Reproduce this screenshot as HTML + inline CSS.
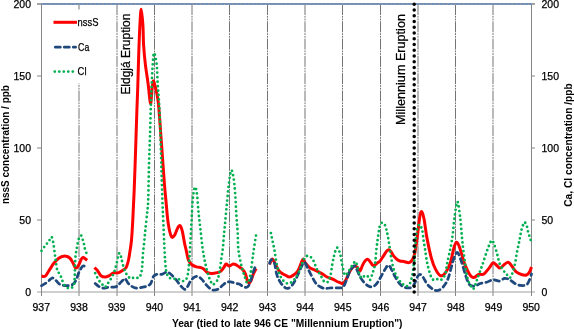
<!DOCTYPE html>
<html><head><meta charset="utf-8"><style>
html,body{margin:0;padding:0;background:#fff;}
body{width:574px;height:329px;overflow:hidden;}
svg{display:block;}
.grid line{stroke:#747474;stroke-width:1;stroke-dasharray:11 0.9 1.8 0.9 1.8 0.9;}
.axis,.axis line{stroke:#868686;stroke-width:1;}
.xaxis{stroke:#a0a0a0;stroke-width:1;}
path{fill:none;}
.ns{stroke:#ff0000;stroke-width:3;fill:none;stroke-linejoin:round;}
.ca{stroke:#1f497d;stroke-width:2.75;fill:none;stroke-dasharray:5 4;stroke-linecap:round;}
.cl{stroke:#00b050;stroke-width:2.8;fill:none;stroke-dasharray:0 4.5;stroke-linecap:round;}
.mill{stroke:#000;stroke-width:3.5;stroke-dasharray:0 5.752;stroke-linecap:round;}
text{font-family:"Liberation Sans",sans-serif;font-size:10.5px;fill:#000;stroke:#000;stroke-width:0.25px;}
.lab .leg{font-size:10.8px;}
.lab .ann{font-size:12.5px;}
.title text{font-weight:bold;font-size:11px;stroke:none;}
</style></head><body>
<svg width="574" height="329" viewBox="0 0 574 329">
<g class="grid"><line x1="79.0" y1="4" x2="79.0" y2="292" /><line x1="117.0" y1="4" x2="117.0" y2="292" /><line x1="154.5" y1="4" x2="154.5" y2="292" /><line x1="192.0" y1="4" x2="192.0" y2="292" /><line x1="229.5" y1="4" x2="229.5" y2="292" /><line x1="267.5" y1="4" x2="267.5" y2="292" /><line x1="305.0" y1="4" x2="305.0" y2="292" /><line x1="342.5" y1="4" x2="342.5" y2="292" /><line x1="380.5" y1="4" x2="380.5" y2="292" /><line x1="418.0" y1="4" x2="418.0" y2="292" /><line x1="455.5" y1="4" x2="455.5" y2="292" /><line x1="493.0" y1="4" x2="493.0" y2="292" /></g>
<line class="xaxis" x1="37" y1="292" x2="535" y2="292"/>
<line class="axis" x1="41.5" y1="3" x2="41.5" y2="296"/>
<line class="axis" x1="531.5" y1="3" x2="531.5" y2="296"/>
<line class="axis" x1="37" y1="4" x2="41" y2="4"/>
<line class="axis" x1="532" y1="4" x2="535" y2="4"/>
<g class="axis"><line x1="37" y1="220.0" x2="41.5" y2="220.0" /><line x1="531" y1="220.0" x2="535" y2="220.0" /><line x1="37" y1="148.0" x2="41.5" y2="148.0" /><line x1="531" y1="148.0" x2="535" y2="148.0" /><line x1="37" y1="76.0" x2="41.5" y2="76.0" /><line x1="531" y1="76.0" x2="535" y2="76.0" /><line x1="37" y1="4.0" x2="41.5" y2="4.0" /><line x1="531" y1="4.0" x2="535" y2="4.0" /><line x1="79.0" y1="292" x2="79.0" y2="296" /><line x1="117.0" y1="292" x2="117.0" y2="296" /><line x1="154.5" y1="292" x2="154.5" y2="296" /><line x1="192.0" y1="292" x2="192.0" y2="296" /><line x1="229.5" y1="292" x2="229.5" y2="296" /><line x1="267.5" y1="292" x2="267.5" y2="296" /><line x1="305.0" y1="292" x2="305.0" y2="296" /><line x1="342.5" y1="292" x2="342.5" y2="296" /><line x1="380.5" y1="292" x2="380.5" y2="296" /><line x1="418.0" y1="292" x2="418.0" y2="296" /><line x1="455.5" y1="292" x2="455.5" y2="296" /><line x1="493.0" y1="292" x2="493.0" y2="296" /></g>
<line x1="41" y1="4" x2="532" y2="4" stroke="#7191bb" stroke-width="2"/>
<line x1="42" y1="4.5" x2="531" y2="4.5" stroke="#d9a066" stroke-width="1" stroke-dasharray="1 3.05" opacity="0.6"/>
<path class="ns" d="M41.50 276.10 C42.13 276.10 43.95 277.17 45.30 276.10 C46.65 275.03 48.18 271.83 49.60 269.70 C51.02 267.57 52.22 265.25 53.80 263.30 C55.38 261.35 57.27 259.22 59.10 258.00 C60.93 256.78 63.02 256.00 64.80 256.00 C66.58 256.00 68.43 256.83 69.80 258.00 C71.17 259.17 72.05 261.37 73.00 263.00 C73.95 264.63 74.75 267.13 75.50 267.80 C76.25 268.47 76.83 267.73 77.50 267.00 C78.17 266.27 78.90 264.65 79.50 263.40 C80.10 262.15 80.50 260.48 81.10 259.50 C81.70 258.52 82.43 257.63 83.10 257.50 C83.77 257.37 84.42 258.23 85.10 258.70 C85.78 259.17 86.85 260.03 87.20 260.30"/>
<path class="ns" d="M94.40 267.60 C94.93 268.12 96.53 269.37 97.60 270.70 C98.67 272.03 99.57 274.53 100.80 275.60 C102.03 276.67 103.58 277.10 105.00 277.10 C106.42 277.10 107.88 276.30 109.30 275.60 C110.72 274.90 112.08 273.35 113.50 272.90 C114.92 272.45 116.38 273.27 117.80 272.90 C119.22 272.53 120.63 271.57 122.00 270.70 C123.37 269.83 124.93 269.40 126.00 267.70 C127.07 266.00 127.73 263.27 128.40 260.50 C129.07 257.73 129.48 254.52 130.00 251.10 C130.52 247.68 131.03 245.18 131.50 240.00 C131.97 234.82 132.35 228.33 132.80 220.00 C133.25 211.67 133.73 201.67 134.20 190.00 C134.67 178.33 135.15 163.33 135.60 150.00 C136.05 136.67 136.53 120.67 136.90 110.00 C137.27 99.33 137.50 95.17 137.80 86.00 C138.10 76.83 138.35 65.17 138.70 55.00 C139.05 44.83 139.48 32.63 139.90 25.00 C140.32 17.37 140.70 9.20 141.20 9.20 C141.70 9.20 142.50 19.03 142.90 25.00 C143.30 30.97 143.18 38.38 143.60 45.00 C144.02 51.62 144.63 58.12 145.40 64.70 C146.17 71.28 147.35 78.03 148.20 84.50 C149.05 90.97 149.87 102.58 150.50 103.50 C151.13 104.42 151.53 93.75 152.00 90.00 C152.47 86.25 152.68 81.27 153.30 81.00 C153.92 80.73 154.97 85.52 155.70 88.40 C156.43 91.28 157.15 94.70 157.70 98.30 C158.25 101.90 158.45 103.55 159.00 110.00 C159.55 116.45 160.33 127.90 161.00 137.00 C161.67 146.10 162.42 156.60 163.00 164.60 C163.58 172.60 164.00 178.88 164.50 185.00 C165.00 191.12 165.40 195.03 166.00 201.30 C166.60 207.57 167.22 216.75 168.10 222.60 C168.98 228.45 170.23 234.28 171.30 236.40 C172.37 238.52 173.43 236.72 174.50 235.30 C175.57 233.88 176.75 229.50 177.70 227.90 C178.65 226.30 179.43 225.17 180.20 225.70 C180.97 226.23 181.58 228.22 182.30 231.10 C183.02 233.98 183.87 239.88 184.50 243.00 C185.13 246.12 185.43 246.92 186.10 249.80 C186.77 252.68 187.58 257.85 188.50 260.30 C189.42 262.75 190.28 263.40 191.60 264.50 C192.92 265.60 194.85 266.38 196.40 266.90 C197.95 267.42 199.67 267.25 200.90 267.60 C202.13 267.95 202.77 268.20 203.80 269.00 C204.83 269.80 205.75 271.65 207.10 272.40 C208.45 273.15 210.18 273.47 211.90 273.50 C213.62 273.53 215.95 272.95 217.40 272.60 C218.85 272.25 219.55 272.22 220.60 271.40 C221.65 270.58 222.78 268.93 223.70 267.70 C224.62 266.47 225.18 264.27 226.10 264.00 C227.02 263.73 228.02 266.10 229.20 266.10 C230.38 266.10 231.87 264.10 233.20 264.00 C234.53 263.90 236.07 264.92 237.20 265.50 C238.33 266.08 239.10 266.83 240.00 267.50 C240.90 268.17 241.72 268.50 242.60 269.50 C243.48 270.50 244.52 271.68 245.30 273.50 C246.08 275.32 246.63 278.83 247.30 280.40 C247.97 281.97 248.65 282.90 249.30 282.90 C249.95 282.90 250.55 281.82 251.20 280.40 C251.85 278.98 252.37 276.38 253.20 274.40 C254.03 272.42 255.70 269.48 256.20 268.50"/>
<path class="ns" d="M269.60 264.40 C270.05 263.50 271.32 259.00 272.30 259.00 C273.28 259.00 274.25 262.27 275.50 264.40 C276.75 266.53 278.20 270.03 279.80 271.80 C281.40 273.57 283.50 274.12 285.10 275.00 C286.70 275.88 287.98 277.10 289.40 277.10 C290.82 277.10 292.18 276.07 293.60 275.00 C295.02 273.93 296.65 272.65 297.90 270.70 C299.15 268.75 300.22 265.25 301.10 263.30 C301.98 261.35 302.50 259.07 303.20 259.00 C303.90 258.93 304.23 261.47 305.30 262.90 C306.37 264.33 307.82 266.30 309.60 267.60 C311.38 268.90 313.88 269.65 316.00 270.70 C318.12 271.75 320.47 272.85 322.30 273.90 C324.13 274.95 325.27 276.12 327.00 277.00 C328.73 277.88 331.03 278.45 332.70 279.20 C334.37 279.95 335.78 280.93 337.00 281.50 C338.22 282.07 338.95 282.27 340.00 282.60 C341.05 282.93 342.33 283.92 343.30 283.50 C344.27 283.08 344.82 281.92 345.80 280.10 C346.78 278.28 348.08 274.68 349.20 272.60 C350.32 270.52 351.53 268.72 352.50 267.60 C353.47 266.48 354.17 265.90 355.00 265.90 C355.83 265.90 356.65 266.77 357.50 267.60 C358.35 268.43 359.25 271.32 360.10 270.90 C360.95 270.48 361.77 266.77 362.60 265.10 C363.43 263.43 364.27 261.88 365.10 260.90 C365.93 259.92 366.77 259.07 367.60 259.20 C368.43 259.33 369.27 260.72 370.10 261.70 C370.93 262.68 371.90 264.40 372.60 265.10 C373.30 265.80 373.60 266.18 374.30 265.90 C375.00 265.62 375.83 264.23 376.80 263.40 C377.77 262.57 378.98 262.15 380.10 260.90 C381.22 259.65 382.38 257.57 383.50 255.90 C384.62 254.23 385.92 251.93 386.80 250.90 C387.68 249.87 388.10 249.57 388.80 249.70 C389.50 249.83 390.22 250.67 391.00 251.70 C391.78 252.73 392.53 254.65 393.50 255.90 C394.47 257.15 395.72 258.35 396.80 259.20 C397.88 260.05 398.83 260.62 400.00 261.00 C401.17 261.38 402.20 261.25 403.80 261.50 C405.40 261.75 407.92 263.35 409.60 262.50 C411.28 261.65 412.70 260.07 413.90 256.40 C415.10 252.73 415.83 247.00 416.80 240.50 C417.77 234.00 418.88 222.22 419.70 217.40 C420.52 212.58 420.98 211.37 421.70 211.60 C422.42 211.83 423.13 214.47 424.00 218.80 C424.87 223.13 425.68 231.10 426.90 237.60 C428.12 244.10 429.85 252.50 431.30 257.80 C432.75 263.10 434.02 266.40 435.60 269.40 C437.18 272.40 439.12 275.32 440.80 275.80 C442.48 276.28 444.15 274.33 445.70 272.30 C447.25 270.27 448.65 267.93 450.10 263.60 C451.55 259.27 453.22 249.82 454.40 246.30 C455.58 242.78 456.23 242.02 457.20 242.50 C458.17 242.98 458.98 245.68 460.20 249.20 C461.42 252.72 462.92 259.38 464.50 263.60 C466.08 267.82 468.18 272.17 469.70 274.50 C471.22 276.83 472.08 277.60 473.60 277.60 C475.12 277.60 477.08 275.10 478.80 274.50 C480.52 273.90 482.18 275.07 483.90 274.00 C485.62 272.93 487.58 269.95 489.10 268.10 C490.62 266.25 491.72 263.33 493.00 262.90 C494.28 262.47 495.60 264.63 496.80 265.50 C498.00 266.37 498.90 268.32 500.20 268.10 C501.50 267.88 503.22 265.15 504.60 264.20 C505.98 263.25 507.22 261.97 508.50 262.40 C509.78 262.83 511.02 265.22 512.30 266.80 C513.58 268.38 514.68 270.62 516.20 271.90 C517.72 273.18 519.68 273.98 521.40 274.50 C523.12 275.02 525.13 275.43 526.50 275.00 C527.87 274.57 528.77 273.23 529.60 271.90 C530.43 270.57 531.18 267.82 531.50 267.00"/>
<path class="ca" d="M41.50 285.70 C42.35 285.18 45.10 283.68 46.60 282.60 C48.10 281.52 49.43 279.97 50.50 279.20 C51.57 278.43 52.08 277.77 53.00 278.00 C53.92 278.23 54.90 279.57 56.00 280.60 C57.10 281.63 58.55 283.42 59.60 284.20 C60.65 284.98 61.18 285.05 62.30 285.30 C63.42 285.55 65.05 285.70 66.30 285.70 C67.55 285.70 68.68 285.55 69.80 285.30 C70.92 285.05 72.08 284.85 73.00 284.20 C73.92 283.55 74.65 282.43 75.30 281.40 C75.95 280.37 76.33 279.42 76.90 278.00 C77.47 276.58 78.13 274.27 78.70 272.90 C79.27 271.53 79.70 270.85 80.30 269.80 C80.90 268.75 81.63 267.23 82.30 266.60 C82.97 265.97 83.55 265.70 84.30 266.00 C85.05 266.30 86.38 268.00 86.80 268.40"/>
<path class="ca" d="M95.20 283.50 C95.85 284.02 97.78 285.82 99.10 286.60 C100.42 287.38 101.65 288.07 103.10 288.20 C104.55 288.33 106.23 287.58 107.80 287.40 C109.37 287.22 111.05 287.23 112.50 287.10 C113.95 286.97 115.30 287.20 116.50 286.60 C117.70 286.00 118.65 284.55 119.70 283.50 C120.75 282.45 121.88 281.10 122.80 280.30 C123.72 279.50 124.27 278.17 125.20 278.70 C126.13 279.23 127.22 282.18 128.40 283.50 C129.58 284.82 130.87 285.82 132.30 286.60 C133.73 287.38 135.42 288.07 137.00 288.20 C138.58 288.33 140.35 287.67 141.80 287.40 C143.25 287.13 144.53 286.95 145.70 286.60 C146.87 286.25 147.92 285.90 148.80 285.30 C149.68 284.70 150.23 284.47 151.00 283.00 C151.77 281.53 152.45 277.95 153.40 276.50 C154.35 275.05 155.32 274.67 156.70 274.30 C158.08 273.93 160.03 274.68 161.70 274.30 C163.37 273.92 165.32 272.13 166.70 272.00 C168.08 271.87 168.88 272.70 170.00 273.50 C171.12 274.30 172.23 275.55 173.40 276.80 C174.57 278.05 175.88 279.62 177.00 281.00 C178.12 282.38 178.88 283.72 180.10 285.10 C181.32 286.48 183.15 288.90 184.30 289.30 C185.45 289.70 186.03 288.75 187.00 287.50 C187.97 286.25 188.93 283.48 190.10 281.80 C191.27 280.12 192.70 278.30 194.00 277.40 C195.30 276.50 196.58 276.07 197.90 276.40 C199.22 276.73 200.58 278.08 201.90 279.40 C203.22 280.72 204.48 282.82 205.80 284.30 C207.12 285.78 208.48 287.32 209.80 288.30 C211.12 289.28 212.23 290.10 213.70 290.20 C215.17 290.30 217.12 289.72 218.60 288.90 C220.08 288.08 221.28 286.40 222.60 285.30 C223.92 284.20 225.18 282.88 226.50 282.30 C227.82 281.72 229.02 281.63 230.50 281.80 C231.98 281.97 233.95 282.93 235.40 283.30 C236.85 283.67 237.92 283.45 239.20 284.00 C240.48 284.55 241.92 286.03 243.10 286.60 C244.28 287.17 245.38 287.53 246.30 287.40 C247.22 287.27 247.95 286.72 248.60 285.80 C249.25 284.88 249.67 283.33 250.20 281.90 C250.73 280.47 251.27 278.92 251.80 277.20 C252.33 275.48 252.73 273.58 253.40 271.60 C254.07 269.62 255.40 266.35 255.80 265.30"/>
<path class="ca" d="M269.60 263.30 C269.88 262.67 270.48 259.50 271.30 259.50 C272.12 259.50 273.62 260.90 274.50 263.30 C275.38 265.70 275.72 270.88 276.60 273.90 C277.48 276.92 278.57 279.27 279.80 281.40 C281.03 283.53 282.65 285.53 284.00 286.70 C285.35 287.87 286.47 288.75 287.90 288.40 C289.33 288.05 291.12 286.48 292.60 284.60 C294.08 282.72 295.38 279.93 296.80 277.10 C298.22 274.27 299.85 270.08 301.10 267.60 C302.35 265.12 303.25 262.20 304.30 262.20 C305.35 262.20 306.17 265.28 307.40 267.60 C308.63 269.92 310.27 273.45 311.70 276.10 C313.13 278.75 314.58 281.73 316.00 283.50 C317.42 285.27 318.78 285.88 320.20 286.70 C321.62 287.52 322.87 288.18 324.50 288.40 C326.13 288.62 327.77 288.08 330.00 288.00 C332.23 287.92 335.68 288.10 337.90 287.90 C340.12 287.70 341.83 288.23 343.30 286.80 C344.77 285.37 345.58 281.95 346.70 279.30 C347.82 276.65 348.75 273.13 350.00 270.90 C351.25 268.67 353.08 266.17 354.20 265.90 C355.32 265.63 355.72 267.48 356.70 269.30 C357.68 271.12 358.85 274.58 360.10 276.80 C361.35 279.02 362.82 281.07 364.20 282.60 C365.58 284.13 367.00 285.30 368.40 286.00 C369.80 286.70 371.20 287.22 372.60 286.80 C374.00 286.38 375.42 285.17 376.80 283.50 C378.18 281.83 379.52 279.17 380.90 276.80 C382.28 274.43 383.83 271.25 385.10 269.30 C386.37 267.35 387.38 264.97 388.50 265.10 C389.62 265.23 390.68 268.15 391.80 270.10 C392.92 272.05 393.90 274.53 395.20 276.80 C396.50 279.07 398.17 281.98 399.60 283.70 C401.03 285.42 402.38 286.40 403.80 287.10 C405.22 287.80 406.68 287.90 408.10 287.90 C409.52 287.90 411.17 287.95 412.30 287.10 C413.43 286.25 414.05 284.50 414.90 282.80 C415.75 281.10 416.55 278.32 417.40 276.90 C418.25 275.48 419.00 274.17 420.00 274.30 C421.00 274.43 422.27 276.13 423.40 277.70 C424.53 279.27 425.52 282.00 426.80 283.70 C428.08 285.40 429.68 286.80 431.10 287.90 C432.52 289.00 434.03 289.90 435.30 290.30 C436.57 290.70 437.28 290.98 438.70 290.30 C440.12 289.62 442.23 288.15 443.80 286.20 C445.37 284.25 446.82 281.87 448.10 278.60 C449.38 275.33 450.52 270.02 451.50 266.60 C452.48 263.18 453.00 260.45 454.00 258.10 C455.00 255.75 456.23 251.82 457.50 252.50 C458.77 253.18 460.18 258.18 461.60 262.20 C463.02 266.22 464.65 272.83 466.00 276.60 C467.35 280.37 468.22 283.22 469.70 284.80 C471.18 286.38 473.17 286.32 474.90 286.10 C476.63 285.88 478.17 284.13 480.10 283.50 C482.03 282.87 484.35 282.93 486.50 282.30 C488.65 281.67 490.85 279.92 493.00 279.70 C495.15 279.48 497.47 281.22 499.40 281.00 C501.33 280.78 502.88 278.62 504.60 278.40 C506.32 278.18 507.98 278.85 509.70 279.70 C511.42 280.55 513.17 282.55 514.90 283.50 C516.63 284.45 518.17 285.18 520.10 285.40 C522.03 285.62 524.92 285.75 526.50 284.80 C528.08 283.85 528.77 281.50 529.60 279.70 C530.43 277.90 531.18 274.95 531.50 274.00"/>
<path class="cl" d="M41.50 250.80 C42.13 249.92 44.08 247.08 45.30 245.50 C46.52 243.92 47.78 242.72 48.80 241.30 C49.82 239.88 50.67 236.80 51.40 237.00 C52.13 237.20 52.55 239.08 53.20 242.50 C53.85 245.92 54.63 252.92 55.30 257.50 C55.97 262.08 56.43 267.20 57.20 270.00 C57.97 272.80 59.18 272.93 59.90 274.30 C60.62 275.67 60.97 276.82 61.50 278.20 C62.03 279.58 62.43 281.22 63.10 282.60 C63.77 283.98 64.58 285.55 65.50 286.50 C66.42 287.45 67.68 288.08 68.60 288.30 C69.52 288.52 70.27 288.03 71.00 287.80 C71.73 287.57 72.47 287.57 73.00 286.90 C73.53 286.23 73.93 285.05 74.20 283.80 C74.47 282.55 74.50 281.03 74.60 279.40 C74.70 277.77 74.73 275.90 74.80 274.00 C74.87 272.10 74.93 270.15 75.00 268.00 C75.07 265.85 75.10 263.18 75.20 261.10 C75.30 259.02 75.43 257.10 75.60 255.50 C75.77 253.90 76.00 252.75 76.20 251.50 C76.40 250.25 76.55 249.37 76.80 248.00 C77.05 246.63 77.35 244.87 77.70 243.30 C78.05 241.73 78.43 239.85 78.90 238.60 C79.37 237.35 80.02 236.20 80.50 235.80 C80.98 235.40 81.42 235.52 81.80 236.20 C82.18 236.88 82.43 238.57 82.80 239.90 C83.17 241.23 83.67 242.78 84.00 244.20 C84.33 245.62 84.40 246.93 84.80 248.40 C85.20 249.87 86.13 252.23 86.40 253.00"/>
<path class="cl" d="M95.20 273.20 C95.72 274.25 97.25 277.78 98.30 279.50 C99.35 281.22 100.55 282.37 101.50 283.50 C102.45 284.63 103.32 285.75 104.00 286.30 C104.68 286.85 104.97 287.27 105.60 286.80 C106.23 286.33 106.90 284.85 107.80 283.50 C108.70 282.15 109.95 280.55 111.00 278.70 C112.05 276.85 113.32 274.37 114.10 272.40 C114.88 270.43 115.17 268.88 115.70 266.90 C116.23 264.92 116.87 262.40 117.30 260.50 C117.73 258.60 117.92 256.72 118.30 255.50 C118.68 254.28 119.12 252.88 119.60 253.20 C120.08 253.52 120.67 255.52 121.20 257.40 C121.73 259.28 122.13 262.13 122.80 264.50 C123.47 266.87 124.40 269.75 125.20 271.60 C126.00 273.45 126.68 274.42 127.60 275.60 C128.52 276.78 129.52 278.42 130.70 278.70 C131.88 278.98 133.38 277.43 134.70 277.30 C136.02 277.17 137.55 278.45 138.60 277.90 C139.65 277.35 140.38 276.10 141.00 274.00 C141.62 271.90 141.98 268.60 142.30 265.30 C142.62 262.00 142.58 258.02 142.90 254.20 C143.22 250.38 143.78 246.55 144.20 242.40 C144.62 238.25 144.88 234.43 145.40 229.30 C145.92 224.17 146.83 216.48 147.30 211.60 C147.77 206.72 147.92 207.77 148.20 200.00 C148.48 192.23 148.70 175.83 149.00 165.00 C149.30 154.17 149.68 145.17 150.00 135.00 C150.32 124.83 150.62 112.42 150.90 104.00 C151.18 95.58 151.40 91.05 151.70 84.50 C152.00 77.95 152.30 69.95 152.70 64.70 C153.10 59.45 153.43 53.00 154.10 53.00 C154.77 53.00 156.10 59.45 156.70 64.70 C157.30 69.95 157.28 77.92 157.70 84.50 C158.12 91.08 158.77 96.62 159.20 104.20 C159.63 111.78 159.95 119.93 160.30 130.00 C160.65 140.07 160.95 152.93 161.30 164.60 C161.65 176.27 162.07 190.43 162.40 200.00 C162.73 209.57 162.98 214.50 163.30 222.00 C163.62 229.50 163.98 238.33 164.30 245.00 C164.62 251.67 164.87 257.57 165.20 262.00 C165.53 266.43 165.72 269.07 166.30 271.60 C166.88 274.13 167.65 276.02 168.70 277.20 C169.75 278.38 171.15 278.42 172.60 278.70 C174.05 278.98 176.00 278.68 177.40 278.90 C178.80 279.12 179.95 279.65 181.00 280.00 C182.05 280.35 182.72 281.35 183.70 281.00 C184.68 280.65 186.10 279.73 186.90 277.90 C187.70 276.07 188.10 273.15 188.50 270.00 C188.90 266.85 189.03 262.95 189.30 259.00 C189.57 255.05 189.73 252.37 190.10 246.30 C190.47 240.23 191.08 230.10 191.50 222.60 C191.92 215.10 192.07 207.17 192.60 201.30 C193.13 195.43 194.00 188.82 194.70 187.40 C195.40 185.98 196.17 188.72 196.80 192.80 C197.43 196.88 197.88 205.70 198.50 211.90 C199.12 218.10 199.78 223.68 200.50 230.00 C201.22 236.32 201.92 243.87 202.80 249.80 C203.68 255.73 204.68 260.78 205.80 265.60 C206.92 270.42 208.48 275.72 209.50 278.70 C210.52 281.68 211.32 282.53 211.90 283.50 C212.48 284.47 212.35 284.63 213.00 284.50 C213.65 284.37 214.93 283.80 215.80 282.70 C216.67 281.60 217.53 280.02 218.20 277.90 C218.87 275.78 219.28 273.15 219.80 270.00 C220.32 266.85 220.78 262.68 221.30 259.00 C221.82 255.32 222.50 251.40 222.90 247.90 C223.30 244.40 223.42 241.25 223.70 238.00 C223.98 234.75 224.10 233.80 224.60 228.40 C225.10 223.00 225.97 213.20 226.70 205.60 C227.43 198.00 228.23 188.68 229.00 182.80 C229.77 176.92 230.53 171.07 231.30 170.30 C232.07 169.53 232.95 174.22 233.60 178.20 C234.25 182.18 234.72 187.73 235.20 194.20 C235.68 200.67 236.08 210.53 236.50 217.00 C236.92 223.47 237.38 227.53 237.70 233.00 C238.02 238.47 237.78 244.37 238.40 249.80 C239.02 255.23 240.42 261.33 241.40 265.60 C242.38 269.87 243.32 272.52 244.30 275.40 C245.28 278.28 246.32 282.90 247.30 282.90 C248.28 282.90 249.22 280.27 250.20 275.40 C251.18 270.53 252.20 260.60 253.20 253.70 C254.20 246.80 255.70 237.28 256.20 234.00"/>
<path class="cl" d="M270.90 233.10 C271.13 234.23 271.70 237.00 272.30 239.90 C272.90 242.80 273.78 246.60 274.50 250.50 C275.22 254.40 275.72 259.22 276.60 263.30 C277.48 267.38 278.57 271.98 279.80 275.00 C281.03 278.02 282.58 279.98 284.00 281.40 C285.42 282.82 286.87 283.50 288.30 283.50 C289.73 283.50 291.18 282.63 292.60 281.40 C294.02 280.17 295.52 278.25 296.80 276.10 C298.08 273.95 299.33 270.83 300.30 268.50 C301.27 266.17 301.82 263.95 302.60 262.10 C303.38 260.25 303.93 258.45 305.00 257.40 C306.07 256.35 307.68 255.40 309.00 255.80 C310.32 256.20 311.85 258.22 312.90 259.80 C313.95 261.38 314.50 263.47 315.30 265.30 C316.10 267.13 316.83 269.18 317.70 270.80 C318.57 272.42 319.50 273.30 320.50 275.00 C321.50 276.70 322.53 279.80 323.70 281.00 C324.87 282.20 326.37 283.17 327.50 282.20 C328.63 281.23 329.72 278.07 330.50 275.20 C331.28 272.33 331.63 268.12 332.20 265.00 C332.77 261.88 333.33 258.92 333.90 256.50 C334.47 254.08 335.03 251.97 335.60 250.50 C336.17 249.03 336.58 247.28 337.30 247.70 C338.02 248.12 339.18 250.68 339.90 253.00 C340.62 255.32 341.03 258.75 341.60 261.60 C342.17 264.45 342.70 267.80 343.30 270.10 C343.90 272.40 344.38 275.10 345.20 275.40 C346.02 275.70 347.32 273.08 348.20 271.90 C349.08 270.72 349.73 269.52 350.50 268.30 C351.27 267.08 351.97 265.75 352.80 264.60 C353.63 263.45 354.77 261.20 355.50 261.40 C356.23 261.60 356.72 264.25 357.20 265.80 C357.68 267.35 357.98 269.17 358.40 270.70 C358.82 272.23 359.08 273.75 359.70 275.00 C360.32 276.25 361.20 278.12 362.10 278.20 C363.00 278.28 364.08 275.73 365.10 275.50 C366.12 275.27 367.38 276.05 368.20 276.80 C369.02 277.55 369.43 280.10 370.00 280.00 C370.57 279.90 371.10 277.55 371.60 276.20 C372.10 274.85 372.55 273.32 373.00 271.90 C373.45 270.48 373.90 269.52 374.30 267.70 C374.70 265.88 375.07 263.90 375.40 261.00 C375.73 258.10 375.95 253.70 376.30 250.30 C376.65 246.90 377.10 243.65 377.50 240.60 C377.90 237.55 378.37 234.27 378.70 232.00 C379.03 229.73 379.07 228.47 379.50 227.00 C379.93 225.53 380.72 223.87 381.30 223.20 C381.88 222.53 382.42 222.75 383.00 223.00 C383.58 223.25 384.23 223.60 384.80 224.70 C385.37 225.80 385.93 227.88 386.40 229.60 C386.87 231.32 387.12 232.43 387.60 235.00 C388.08 237.57 388.73 241.38 389.30 245.00 C389.87 248.62 390.30 252.80 391.00 256.70 C391.70 260.60 392.50 265.03 393.50 268.40 C394.50 271.77 395.70 274.50 397.00 276.90 C398.30 279.30 400.13 281.45 401.30 282.80 C402.47 284.15 403.15 284.43 404.00 285.00 C404.85 285.57 405.43 286.42 406.40 286.20 C407.37 285.98 408.82 285.55 409.80 283.70 C410.78 281.85 411.60 278.52 412.30 275.10 C413.00 271.68 413.57 266.88 414.00 263.20 C414.43 259.52 414.62 256.68 414.90 253.00 C415.18 249.32 415.37 244.93 415.70 241.10 C416.03 237.27 416.32 232.75 416.90 230.00 C417.48 227.25 418.52 225.10 419.20 224.60 C419.88 224.10 420.48 226.03 421.00 227.00 C421.52 227.97 421.88 228.30 422.30 230.40 C422.72 232.50 423.05 236.50 423.50 239.60 C423.95 242.70 424.37 245.00 425.00 249.00 C425.63 253.00 426.28 258.95 427.30 263.60 C428.32 268.25 429.90 274.12 431.10 276.90 C432.30 279.68 433.23 280.02 434.50 280.30 C435.77 280.58 437.43 278.75 438.70 278.60 C439.97 278.45 440.97 280.27 442.10 279.40 C443.23 278.53 444.65 276.10 445.50 273.40 C446.35 270.70 446.48 266.88 447.20 263.20 C447.92 259.52 449.08 254.70 449.80 251.30 C450.52 247.90 450.98 245.85 451.50 242.80 C452.02 239.75 452.40 237.18 452.90 233.00 C453.40 228.82 453.75 222.92 454.50 217.70 C455.25 212.48 456.45 201.70 457.40 201.70 C458.35 201.70 459.45 211.85 460.20 217.70 C460.95 223.55 461.30 230.78 461.90 236.80 C462.50 242.82 462.92 247.08 463.80 253.80 C464.68 260.52 466.00 271.72 467.20 277.10 C468.40 282.48 469.93 284.17 471.00 286.10 C472.07 288.03 472.52 289.98 473.60 288.70 C474.68 287.42 476.00 282.48 477.50 278.40 C479.00 274.32 480.88 269.15 482.60 264.20 C484.32 259.25 486.28 252.65 487.80 248.70 C489.32 244.75 490.62 241.15 491.70 240.50 C492.78 239.85 493.37 242.43 494.30 244.80 C495.23 247.17 496.38 251.48 497.30 254.70 C498.22 257.92 498.82 261.53 499.80 264.10 C500.78 266.67 502.07 268.40 503.20 270.10 C504.33 271.80 505.47 273.03 506.60 274.30 C507.73 275.57 509.00 277.98 510.00 277.70 C511.00 277.42 511.75 275.00 512.60 272.60 C513.45 270.20 514.40 266.57 515.10 263.30 C515.80 260.03 516.22 256.13 516.80 253.00 C517.38 249.87 518.10 246.92 518.60 244.50 C519.10 242.08 519.47 240.25 519.80 238.50 C520.13 236.75 520.35 235.35 520.60 234.00 C520.85 232.65 520.93 231.77 521.30 230.40 C521.67 229.03 522.30 227.17 522.80 225.80 C523.30 224.43 523.67 222.33 524.30 222.20 C524.93 222.07 526.07 223.77 526.60 225.00 C527.13 226.23 527.13 228.08 527.50 229.60 C527.87 231.12 528.33 232.58 528.80 234.10 C529.27 235.62 529.85 237.22 530.30 238.70 C530.75 240.18 531.30 242.28 531.50 243.00"/>
<rect x="48" y="9.5" width="57" height="74" fill="#fff"/>
<line class="mill" x1="414.2" y1="4.3" x2="414.2" y2="292"/>
<line class="ns" x1="53.5" y1="22.3" x2="77" y2="22.3"/>
<line class="ca" x1="55.3" y1="47.2" x2="75.6" y2="47.2"/>
<line class="cl" x1="54.8" y1="71.6" x2="75" y2="71.6"/>
<g class="lab"><text x="31" y="296.0" text-anchor="end">0</text><text x="541.5" y="296.0">0</text><text x="31" y="224.0" text-anchor="end">50</text><text x="541.5" y="224.0">50</text><text x="31" y="152.0" text-anchor="end">100</text><text x="541.5" y="152.0">100</text><text x="31" y="80.0" text-anchor="end">150</text><text x="541.5" y="80.0">150</text><text x="31" y="8.0" text-anchor="end">200</text><text x="541.5" y="8.0">200</text><text x="41.3" y="310.6" text-anchor="middle">937</text><text x="79.0" y="310.6" text-anchor="middle">938</text><text x="116.7" y="310.6" text-anchor="middle">939</text><text x="154.4" y="310.6" text-anchor="middle">940</text><text x="192.0" y="310.6" text-anchor="middle">941</text><text x="229.7" y="310.6" text-anchor="middle">942</text><text x="267.4" y="310.6" text-anchor="middle">943</text><text x="305.1" y="310.6" text-anchor="middle">944</text><text x="342.8" y="310.6" text-anchor="middle">945</text><text x="380.5" y="310.6" text-anchor="middle">946</text><text x="418.1" y="310.6" text-anchor="middle">947</text><text x="455.8" y="310.6" text-anchor="middle">948</text><text x="493.5" y="310.6" text-anchor="middle">949</text><text x="531.2" y="310.6" text-anchor="middle">950</text>
<text x="77.6" y="25.8" class="leg" textLength="20.8" lengthAdjust="spacingAndGlyphs">nssS</text>
<text x="78.1" y="51.2" class="leg" textLength="11.2" lengthAdjust="spacingAndGlyphs">Ca</text>
<text x="77.6" y="74.8" class="leg" textLength="8.9" lengthAdjust="spacingAndGlyphs">Cl</text>
<text transform="translate(130,54.1) rotate(-90)" text-anchor="middle" class="ann" textLength="81" lengthAdjust="spacingAndGlyphs">Eldgjá Eruption</text>
<text transform="translate(405,69.5) rotate(-90)" text-anchor="middle" class="ann" textLength="111" lengthAdjust="spacingAndGlyphs">Millennium Eruption</text>
</g>
<g class="title">
<text transform="translate(8.7,144.6) rotate(-90)" text-anchor="middle" textLength="119" lengthAdjust="spacingAndGlyphs">nssS concentration / ppb</text>
<text transform="translate(572,145) rotate(-90)" text-anchor="middle" textLength="123.5" lengthAdjust="spacingAndGlyphs">Ca, Cl concentration /ppb</text>
<text x="287.2" y="326.9" text-anchor="middle" class="xt" textLength="230.6" lengthAdjust="spacingAndGlyphs">Year (tied to late 946 CE "Millennium Eruption")</text>
</g>
</svg>
</body></html>
